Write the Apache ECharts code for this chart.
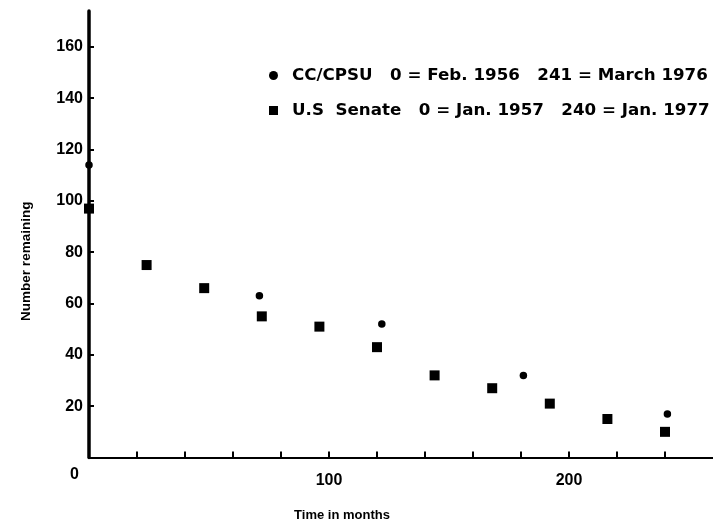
<!DOCTYPE html>
<html>
<head>
<meta charset="utf-8">
<script src="https://cdn.jsdelivr.net/npm/echarts@6/dist/echarts.min.js"></script>
<style>
html, body { margin: 0; padding: 0; background: #fff; }
#chart { width: 713px; height: 522px; }
</style>
</head>
<body>
<div id="chart"></div>
<script>
// 数据
const cpsuMonths = [0, 71, 122, 181, 241];
const cpsuValues = [114, 63, 52, 32, 17];
const senateMonths = [0, 24, 48, 72, 96, 120, 144, 168, 192, 216, 240];
const senateValues = [97, 75, 66, 55, 51, 43, 32, 27, 21, 15, 10];
const xLabels = [0, 100, 200];
const yLabels = [20, 40, 60, 80, 100, 120, 140, 160];
const legendText = {
	'CC/CPSU': 'CC/CPSU   0 = Feb. 1956   241 = March 1976',
	'U.S Senate': 'U.S  Senate   0 = Jan. 1957   240 = Jan. 1977'
};

const font = '"Liberation Sans", Arial, sans-serif';
const ink = '#000';

const chart = echarts.init(document.getElementById('chart'));
chart.setOption({
	backgroundColor: '#fff',
	animation: false,
	grid: { left: 89, right: 0, top: 11, bottom: 64.5, outerBoundsMode: 'none' },
	legend: {
		orient: 'vertical',
		left: 264,
		top: 62,
		itemGap: 18,
		itemWidth: 9,
		itemHeight: 9,
		data: [
			{ name: 'CC/CPSU', icon: 'circle', itemStyle: { opacity: 1 } },
			{ name: 'U.S Senate', icon: 'rect', itemStyle: { opacity: 1 } }
		],
		formatter: (name) => legendText[name],
		textStyle: {
			fontFamily: '"DejaVu Sans", sans-serif',
			fontWeight: 'bold',
			fontSize: 16.7,
			color: ink,
			padding: [0, 0, 0, 9]
		}
	},
	xAxis: {
		type: 'value',
		min: 0,
		max: 260,
		interval: 20,
		splitLine: { show: false },
		axisLine: { lineStyle: { color: ink, width: 2 } },
		axisTick: { inside: true, length: 6, lineStyle: { color: ink, width: 2 } },
		axisLabel: {
			margin: 15,
			fontFamily: font,
			fontWeight: 'bold',
			fontSize: 16,
			color: ink,
			showMaxLabel: false,
			formatter: (v) => {
				if (!xLabels.includes(v)) return '';
				return v === 0 ? '{z|0}' : String(v);
			},
			rich: {
				z: { fontFamily: font, fontWeight: 'bold', fontSize: 16, color: ink, padding: [0, 29, 0, 0], lineHeight: 4 }
			}
		},
		name: 'Time in months',
		nameLocation: 'middle',
		nameGap: 51,
		nameTextStyle: {
			fontFamily: font,
			fontWeight: 'bold',
			fontSize: 13,
			color: ink,
			padding: [0, 118, 0, 0]
		}
	},
	yAxis: {
		type: 'value',
		min: 0,
		max: 174,
		interval: 20,
		splitLine: { show: false },
		axisLine: { lineStyle: { color: ink, width: 3.5 } },
		axisTick: { inside: true, length: 5, customValues: yLabels, lineStyle: { color: ink, width: 2 } },
		axisLabel: {
			margin: 6,
			fontFamily: font,
			fontWeight: 'bold',
			fontSize: 16,
			color: ink,
			customValues: yLabels,
			formatter: (v) => (yLabels.includes(v) ? String(v) : '')
		},
		name: 'Number remaining',
		nameLocation: 'middle',
		nameGap: 56,
		nameTextStyle: {
			fontFamily: font,
			fontWeight: 'bold',
			fontSize: 13.5,
			color: ink,
			padding: [0, 54, 0, 0]
		}
	},
	series: [
		{
			name: 'CC/CPSU',
			type: 'scatter',
			symbol: 'circle',
			symbolSize: 7.5,
			itemStyle: { color: ink, opacity: 1 },
			data: cpsuMonths.map((m, i) => [m, cpsuValues[i]])
		},
		{
			name: 'U.S Senate',
			type: 'scatter',
			symbol: 'rect',
			symbolSize: 10,
			itemStyle: { color: ink, opacity: 1 },
			data: senateMonths.map((m, i) => [m, senateValues[i]])
		}
	]
});
</script>
</body>
</html>
